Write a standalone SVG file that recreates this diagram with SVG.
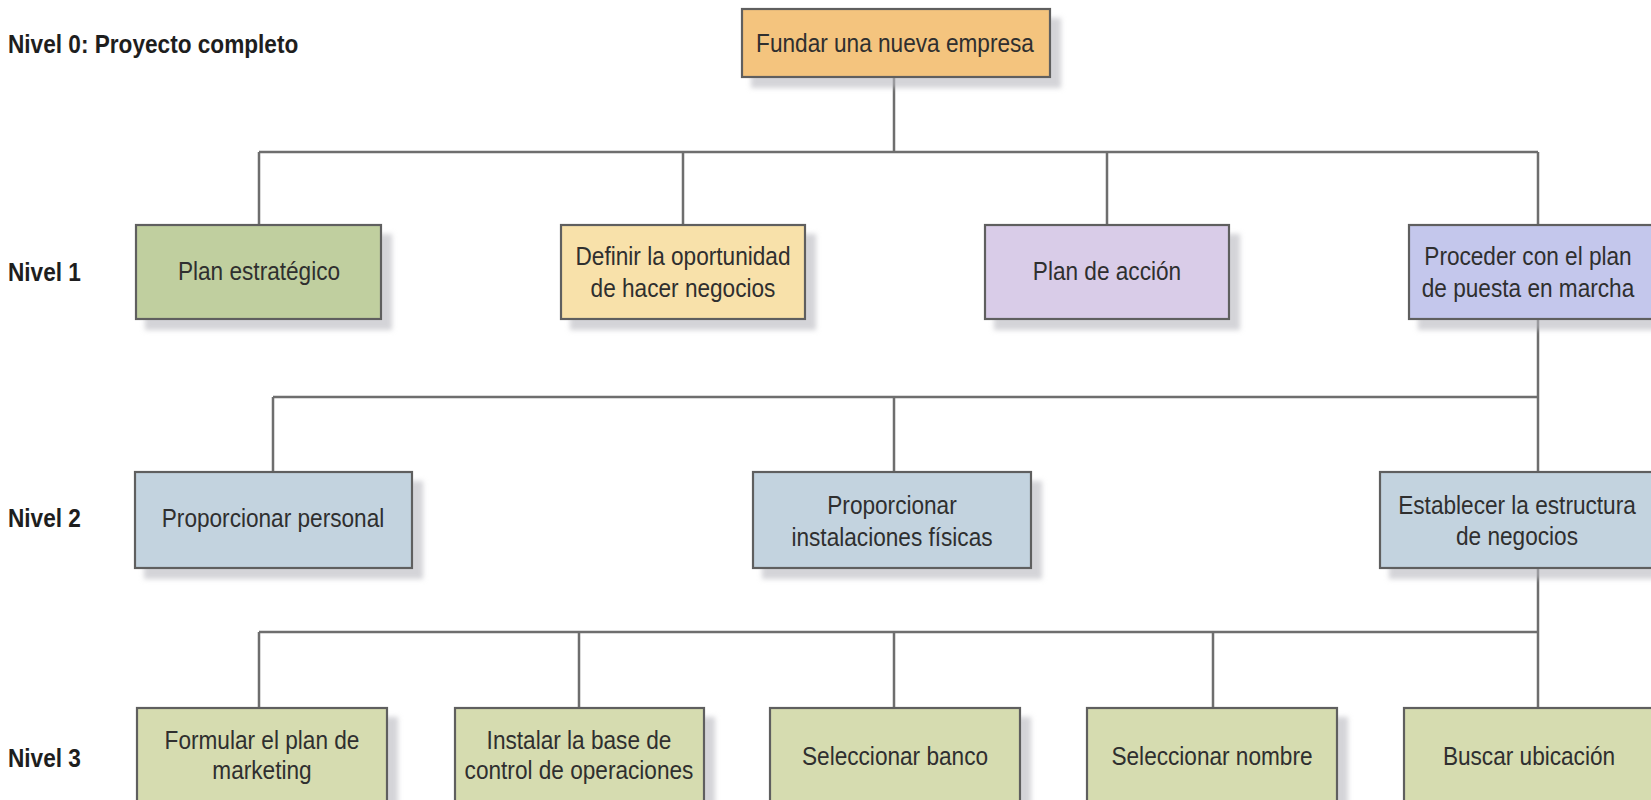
<svg xmlns="http://www.w3.org/2000/svg" width="1651" height="800" viewBox="0 0 1651 800">
<defs>
<filter id="sh" x="-5%" y="-10%" width="120%" height="150%">
<feDropShadow dx="10" dy="10" stdDeviation="2.5" flood-color="#b8b8be" flood-opacity="0.6"/>
</filter>
<style>
.bx{stroke:#5e5e5e;stroke-width:2.2;filter:url(#sh)}
.t{font-family:"Liberation Sans",Arial,sans-serif;font-size:26px;fill:#2f2f2f;text-anchor:middle}
.lv{font-family:"Liberation Sans",Arial,sans-serif;font-size:26px;font-weight:bold;fill:#1e1e1e}
.cn{fill:none;stroke:#6e6e6e;stroke-width:2.5}
.o{fill:#F4C47E}.g{fill:#C0CF9F}.y{fill:#F8E1AA}.p{fill:#D9CCE8}.b{fill:#C4C7EC}.s{fill:#C3D3DF}.l{fill:#D6DCB0}
</style>
</defs>
<rect width="1651" height="800" fill="#ffffff"/>
<g id="labels">
<text class="lv" transform="translate(8,53) scale(0.87,1)">Nivel 0: Proyecto completo</text>
<text class="lv" transform="translate(8,281) scale(0.87,1)">Nivel 1</text>
<text class="lv" transform="translate(8,527) scale(0.87,1)">Nivel 2</text>
<text class="lv" transform="translate(8,767) scale(0.87,1)">Nivel 3</text>
</g>
<g id="connectors">
<path class="cn" d="M894 77V152M259 152H1538M259 152V225M683 152V225M1107 152V225M1538 152V225"/>
<path class="cn" d="M1538 319V472M273 397H1538M273 397V472M894 397V472"/>
<path class="cn" d="M1538 568V708M259 632H1538M259 632V708M579 632V708M894 632V708M1213 632V708M1538 632V708"/>
</g>
<g id="n0">
<rect class="bx o" x="742" y="9" width="308" height="68"/>
<text class="t" transform="translate(895,52) scale(0.87,1)">Fundar una nueva empresa</text>
</g>
<g id="n1a">
<rect class="bx g" x="136" y="225" width="245" height="94"/>
<text class="t" transform="translate(259,280) scale(0.87,1)">Plan estratégico</text>
</g>
<g id="n1b">
<rect class="bx y" x="561" y="225" width="244" height="94"/>
<text class="t" transform="translate(683,265) scale(0.87,1)"><tspan x="0">Definir la oportunidad</tspan><tspan x="0" dy="32">de hacer negocios</tspan></text>
</g>
<g id="n1c">
<rect class="bx p" x="985" y="225" width="244" height="94"/>
<text class="t" transform="translate(1107,280) scale(0.87,1)">Plan de acción</text>
</g>
<g id="n1d">
<rect class="bx b" x="1409" y="225" width="245" height="94"/>
<text class="t" transform="translate(1528,265) scale(0.87,1)"><tspan x="0">Proceder con el plan</tspan><tspan x="0" dy="32">de puesta en marcha</tspan></text>
</g>
<g id="n2a">
<rect class="bx s" x="135" y="472" width="277" height="96"/>
<text class="t" transform="translate(273,527) scale(0.87,1)">Proporcionar personal</text>
</g>
<g id="n2b">
<rect class="bx s" x="753" y="472" width="278" height="96"/>
<text class="t" transform="translate(892,514) scale(0.87,1)"><tspan x="0">Proporcionar</tspan><tspan x="0" dy="32">instalaciones físicas</tspan></text>
</g>
<g id="n2c">
<rect class="bx s" x="1380" y="472" width="277" height="96"/>
<text class="t" transform="translate(1517,514) scale(0.87,1)"><tspan x="0">Establecer la estructura</tspan><tspan x="0" dy="31">de negocios</tspan></text>
</g>
<g id="n3a">
<rect class="bx l" x="137" y="708" width="250" height="100"/>
<text class="t" transform="translate(262,749) scale(0.87,1)"><tspan x="0">Formular el plan de</tspan><tspan x="0" dy="30">marketing</tspan></text>
</g>
<g id="n3b">
<rect class="bx l" x="455" y="708" width="249" height="100"/>
<text class="t" transform="translate(579,749) scale(0.87,1)"><tspan x="0">Instalar la base de</tspan><tspan x="0" dy="30">control de operaciones</tspan></text>
</g>
<g id="n3c">
<rect class="bx l" x="770" y="708" width="250" height="100"/>
<text class="t" transform="translate(895,765) scale(0.87,1)">Seleccionar banco</text>
</g>
<g id="n3d">
<rect class="bx l" x="1087" y="708" width="250" height="100"/>
<text class="t" transform="translate(1212,765) scale(0.87,1)">Seleccionar nombre</text>
</g>
<g id="n3e">
<rect class="bx l" x="1404" y="708" width="250" height="100"/>
<text class="t" transform="translate(1529,765) scale(0.87,1)">Buscar ubicación</text>
</g>
</svg>
